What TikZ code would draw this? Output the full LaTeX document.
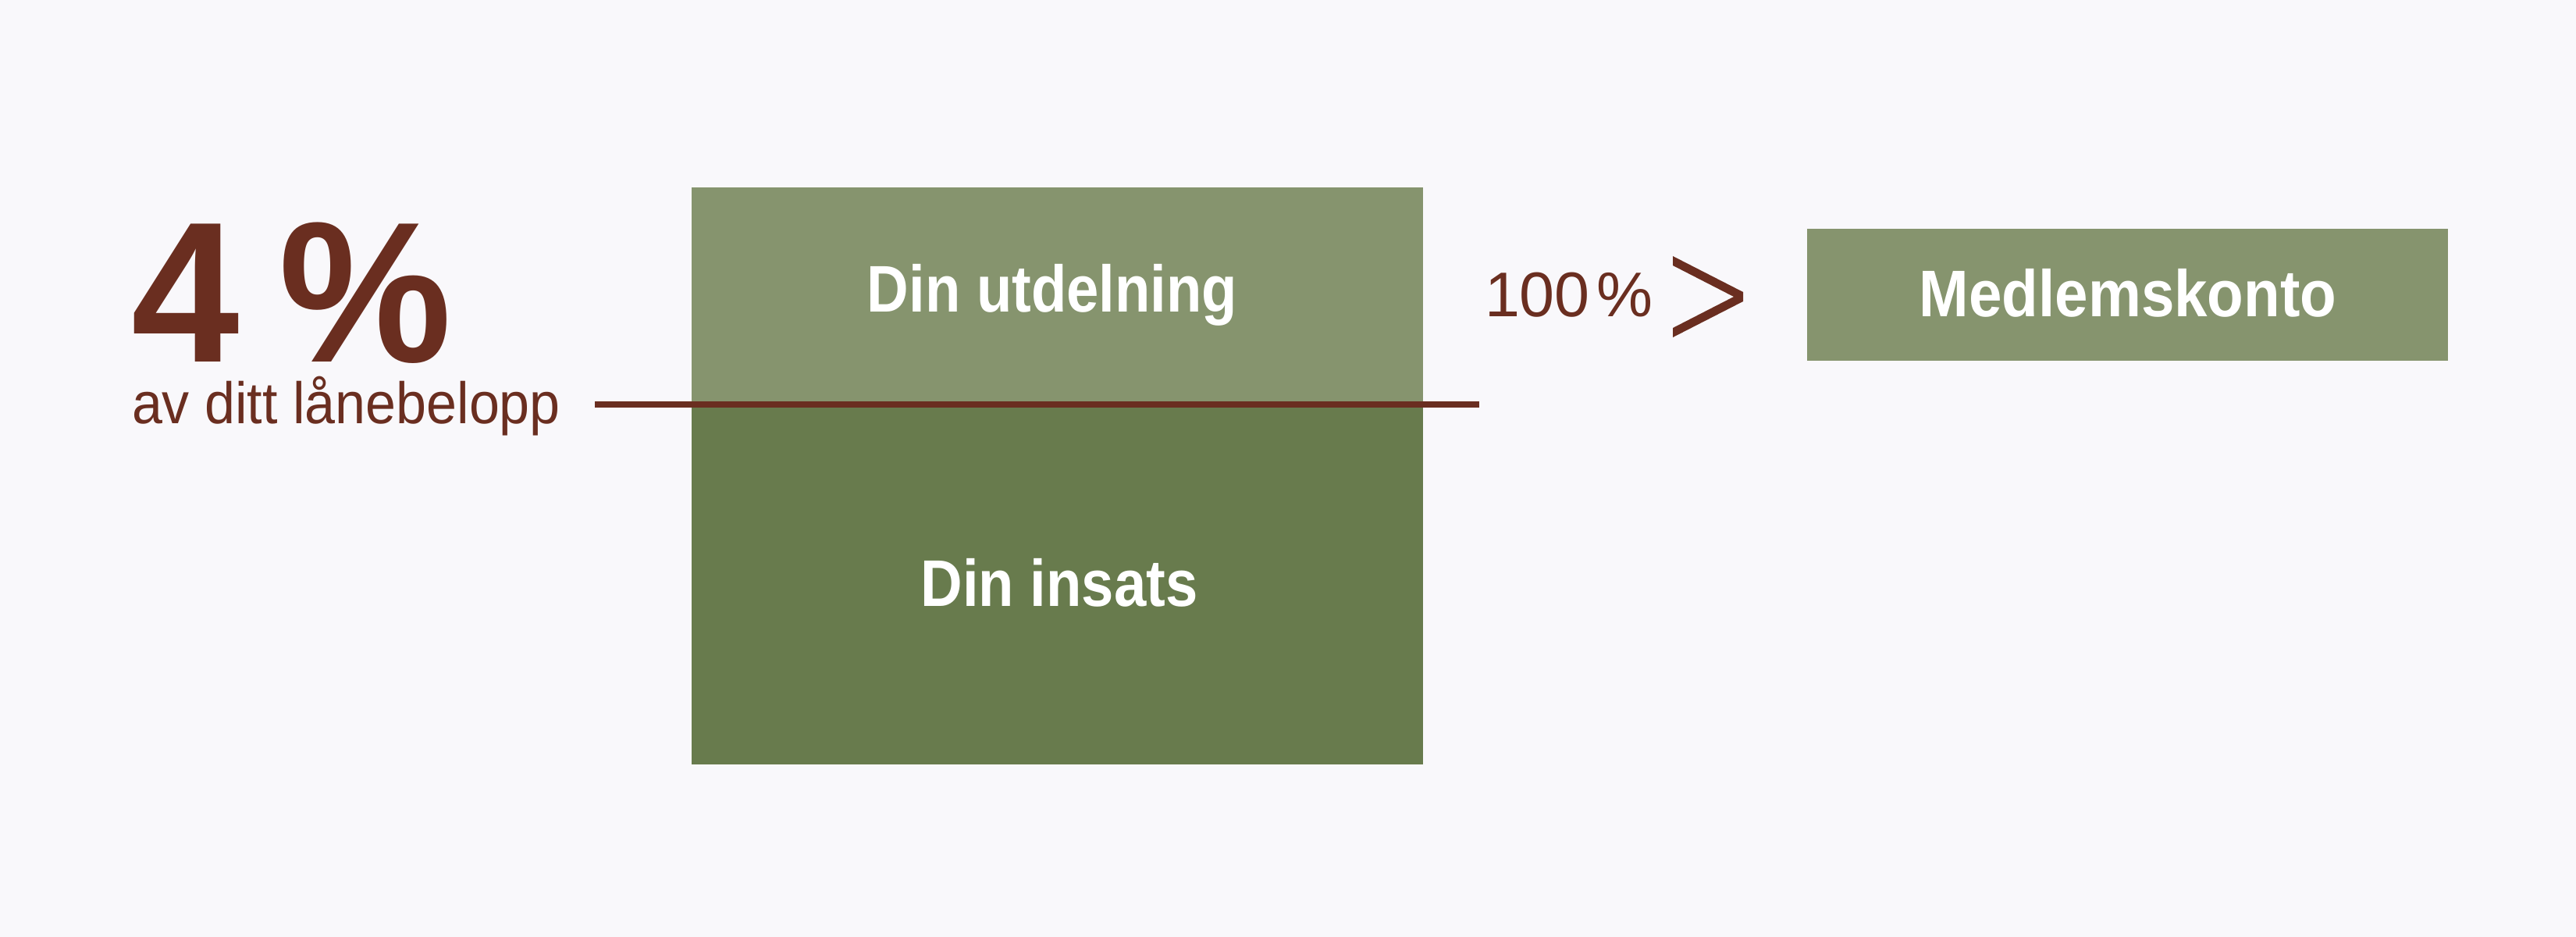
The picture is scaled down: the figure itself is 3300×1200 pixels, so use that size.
\documentclass[tikz,border=0pt]{standalone}
\usepackage{fontspec}
\setmainfont{Liberation Sans}
\definecolor{bgcol}{HTML}{F9F8FB}
\definecolor{lightgreen}{HTML}{86946E}
\definecolor{darkgreen}{HTML}{687B4D}
\definecolor{brownink}{HTML}{6A2E20}
\newfontfamily\narrowbold[FakeStretch=0.88]{Liberation Sans Bold}
\newfontfamily\kontobold[FakeStretch=0.905]{Liberation Sans Bold}
\newfontfamily\bigbold[FakeStretch=0.97]{Liberation Sans Bold}
\newfontfamily\narrowreg[FakeStretch=0.935]{Liberation Sans}
\newfontfamily\plainreg{Liberation Sans}
\tikzset{
  txt/.style={inner sep=0pt, outer sep=0pt},
  whitelabel/.style={txt, anchor=base, text=white, font=\narrowbold\fontsize{24}{24}\selectfont},
  brownlabel/.style={txt, anchor=base west, text=brownink},
  rule/.style={draw=brownink, line width=0.08cm}
}
\begin{document}
\begin{tikzpicture}[x=0.01cm,y=-0.01cm]
\fill[bgcol] (0,0) rectangle (3300,1200);
\useasboundingbox (0,0) rectangle (3300,1200);

% stacked box
\fill[lightgreen] (886,240) rectangle (1823,517);
\fill[darkgreen] (886,517) rectangle (1823,979);
\coordinate (upperC) at (1348,399);
\coordinate (lowerC) at (1357,776);
\node[whitelabel] (utdelning) at (upperC) {Din utdelning};
\node[whitelabel] (insats) at (lowerC) {Din insats};

% member account box
\fill[lightgreen] (2315,293) rectangle (3136,462);
\node[whitelabel, font=\kontobold\fontsize{24}{24}\selectfont] (konto) at (2726,405) {Medlemskonto};

% horizontal rule
\coordinate (ruleL) at (762,517.5);
\coordinate (ruleR) at (1895,517.5);
\draw[rule] (ruleL) -- (ruleR);

% 4 %
\node[brownlabel, font=\bigbold\fontsize{73}{73}\selectfont] (four) at (168,463) {4\hspace{0.2em}\%};
\node[brownlabel, font=\narrowreg\fontsize{21.3}{21.3}\selectfont] (lane) at (169,542) {av ditt lånebelopp};

% 100 %
\node[brownlabel, font=\plainreg\fontsize{23}{23}\selectfont] (hundred) at (1902,405) {100\hspace{0.1em}\%};

% chevron
\fill[brownink] (2143,328) -- (2233,374) -- (2233,386) -- (2143,432) -- (2143,420) -- (2221,380) -- (2143,340) -- cycle;
\end{tikzpicture}
\end{document}
